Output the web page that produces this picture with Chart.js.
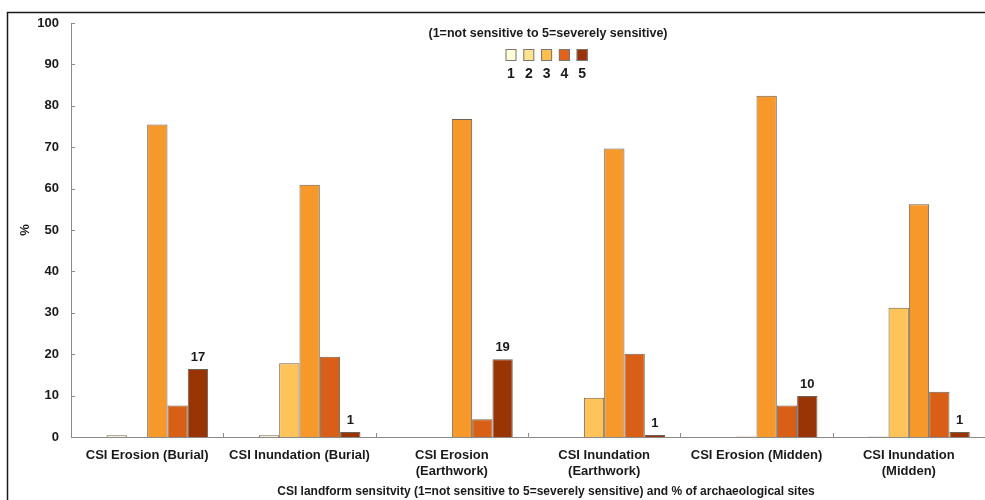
<!DOCTYPE html>
<html>
<head>
<meta charset="utf-8">
<script src="https://cdn.jsdelivr.net/npm/chart.js@4/dist/chart.umd.min.js"></script>
<style>
  html, body { margin: 0; padding: 0; background: #fff; }
  #wrap { width: 985px; height: 500px; position: relative; }
</style>
</head>
<body>
<div id="wrap"><canvas id="c" width="985" height="500"></canvas></div>
<script>
const categories = [
  "CSI Erosion (Burial)",
  "CSI Inundation (Burial)",
  ["CSI Erosion", "(Earthwork)"],
  ["CSI Inundation", "(Earthwork)"],
  "CSI Erosion (Midden)",
  ["CSI Inundation", "(Midden)"]
];
const seriesNames = ["1", "2", "3", "4", "5"];
const blankSeries = [null, null, null, null, null, null];
const s1 = [0.4, 0.4, 0, 0, 0, 0.1];
const s2 = [0, 17.8, 0, 9.5, 0.1, 31.2];
const s3 = [75.5, 60.9, 76.8, 69.7, 82.4, 56.2];
const s4 = [7.6, 19.4, 4.3, 20.1, 7.6, 10.9];
const s5 = [16.4, 1.2, 18.8, 0.5, 9.9, 1.2];
const s5Labels = ["17", "1", "19", "1", "10", "1"];
const yTicks = [0, 10, 20, 30, 40, 50, 60, 70, 80, 90, 100];
const legendTitle = "(1=not sensitive to 5=severely sensitive)";
const xTitle = "CSI landform sensitvity (1=not sensitive to 5=severely sensitive) and % of archaeological sites";
const yTitle = "%";

const barColors = ["#FFFDD2", "#FEC459", "#F7982B", "#D95F16", "#993404"];
const legendColors = ["#FFFDD8", "#FEE391", "#FDBE4E", "#E0621C", "#9A3408"];
const borderCol = "#6E6356";
const FONT = "'Liberation Sans', Arial, sans-serif";

const decor = {
  id: "decor",
  afterDraw(chart) {
    const ctx = chart.ctx;
    const xs = chart.scales.x, ys = chart.scales.y;
    const ca = chart.chartArea;
    ctx.save();
    // outer frame
    ctx.strokeStyle = "#1a1a1a";
    ctx.lineWidth = 1.5;
    ctx.beginPath();
    ctx.moveTo(7.5, 505);
    ctx.lineTo(7.5, 12.5);
    ctx.lineTo(990, 12.5);
    ctx.stroke();
    // inner tick marks
    ctx.strokeStyle = "#8a8a8a";
    ctx.lineWidth = 1;
    ctx.beginPath();
    yTicks.forEach(v => {
      const y = Math.round(ys.getPixelForValue(v)) + 0.5;
      ctx.moveTo(ca.left, y);
      ctx.lineTo(ca.left + 4, y);
    });
    for (let i = 0; i <= categories.length; i++) {
      const x = Math.round(xs.getPixelForValue(i - 0.5)) + 0.5;
      ctx.moveTo(x, ca.bottom);
      ctx.lineTo(x, ca.bottom - 4);
    }
    ctx.stroke();
    // value labels over series 5
    const meta = chart.getDatasetMeta(5);
    ctx.fillStyle = "#1a1a1a";
    ctx.font = "bold 13px " + FONT;
    ctx.textAlign = "center";
    ctx.textBaseline = "bottom";
    meta.data.forEach((bar, i) => {
      ctx.fillText(s5Labels[i], bar.x, bar.y - 5);
    });
    // legend title
    ctx.textBaseline = "middle";
    ctx.font = "bold 12.5px " + FONT;
    ctx.fillText(legendTitle, 548, 34);
    // legend boxes and numbers
    seriesNames.forEach((n, i) => {
      const cx = 511 + i * 17.8;
      ctx.fillStyle = legendColors[i];
      ctx.fillRect(cx - 5.5, 49, 11, 12);
      ctx.strokeStyle = "#777";
      ctx.strokeRect(cx - 5.5 + 0.5, 49.5, 10, 11);
      ctx.fillStyle = "#1a1a1a";
      ctx.font = "bold 14px " + FONT;
      ctx.fillText(n, cx, 74);
    });
    // x title
    ctx.font = "bold 12px " + FONT;
    ctx.fillText(xTitle, 546, 492);
    // y title
    ctx.translate(25, 230);
    ctx.rotate(-Math.PI / 2);
    ctx.font = "bold 13px " + FONT;
    ctx.fillText(yTitle, 0, 0);
    ctx.restore();
  }
};

const datasets = [{ label: "", data: blankSeries, backgroundColor: "#fff", borderWidth: 0 }];
[s1, s2, s3, s4, s5].forEach((d, i) => {
  datasets.push({
    label: seriesNames[i],
    data: d,
    backgroundColor: barColors[i],
    borderColor: borderCol,
    borderWidth: 1,
    borderSkipped: "bottom"
  });
});

new Chart(document.getElementById("c"), {
  type: "bar",
  data: { labels: categories, datasets },
  options: {
    responsive: false,
    devicePixelRatio: 1,
    animation: false,
    layout: { padding: { left: 0, right: 0, top: 23, bottom: 0 } },
    plugins: { legend: { display: false }, title: { display: false }, tooltip: { enabled: false } },
    datasets: { bar: { categoryPercentage: 0.8, barPercentage: 1.0 } },
    scales: {
      x: {
        grid: { display: false, drawTicks: false },
        border: { display: true, color: "#8a8a8a", width: 1 },
        ticks: {
          color: "#1a1a1a",
          font: { family: FONT, size: 13, weight: "bold", lineHeight: 1.2 },
          padding: 11,
          maxRotation: 0,
          autoSkip: false
        },
        afterFit(scale) { scale.height = 63; }
      },
      y: {
        min: 0, max: 100,
        afterBuildTicks(scale) { scale.ticks = yTicks.map(v => ({ value: v })); },
        grid: { display: false, drawTicks: false },
        border: { display: true, color: "#8a8a8a", width: 1 },
        ticks: {
          color: "#1a1a1a",
          font: { family: FONT, size: 13, weight: "bold" },
          padding: 12
        },
        afterFit(scale) { scale.width = 71; }
      }
    }
  },
  plugins: [decor]
});
</script>
</body>
</html>
